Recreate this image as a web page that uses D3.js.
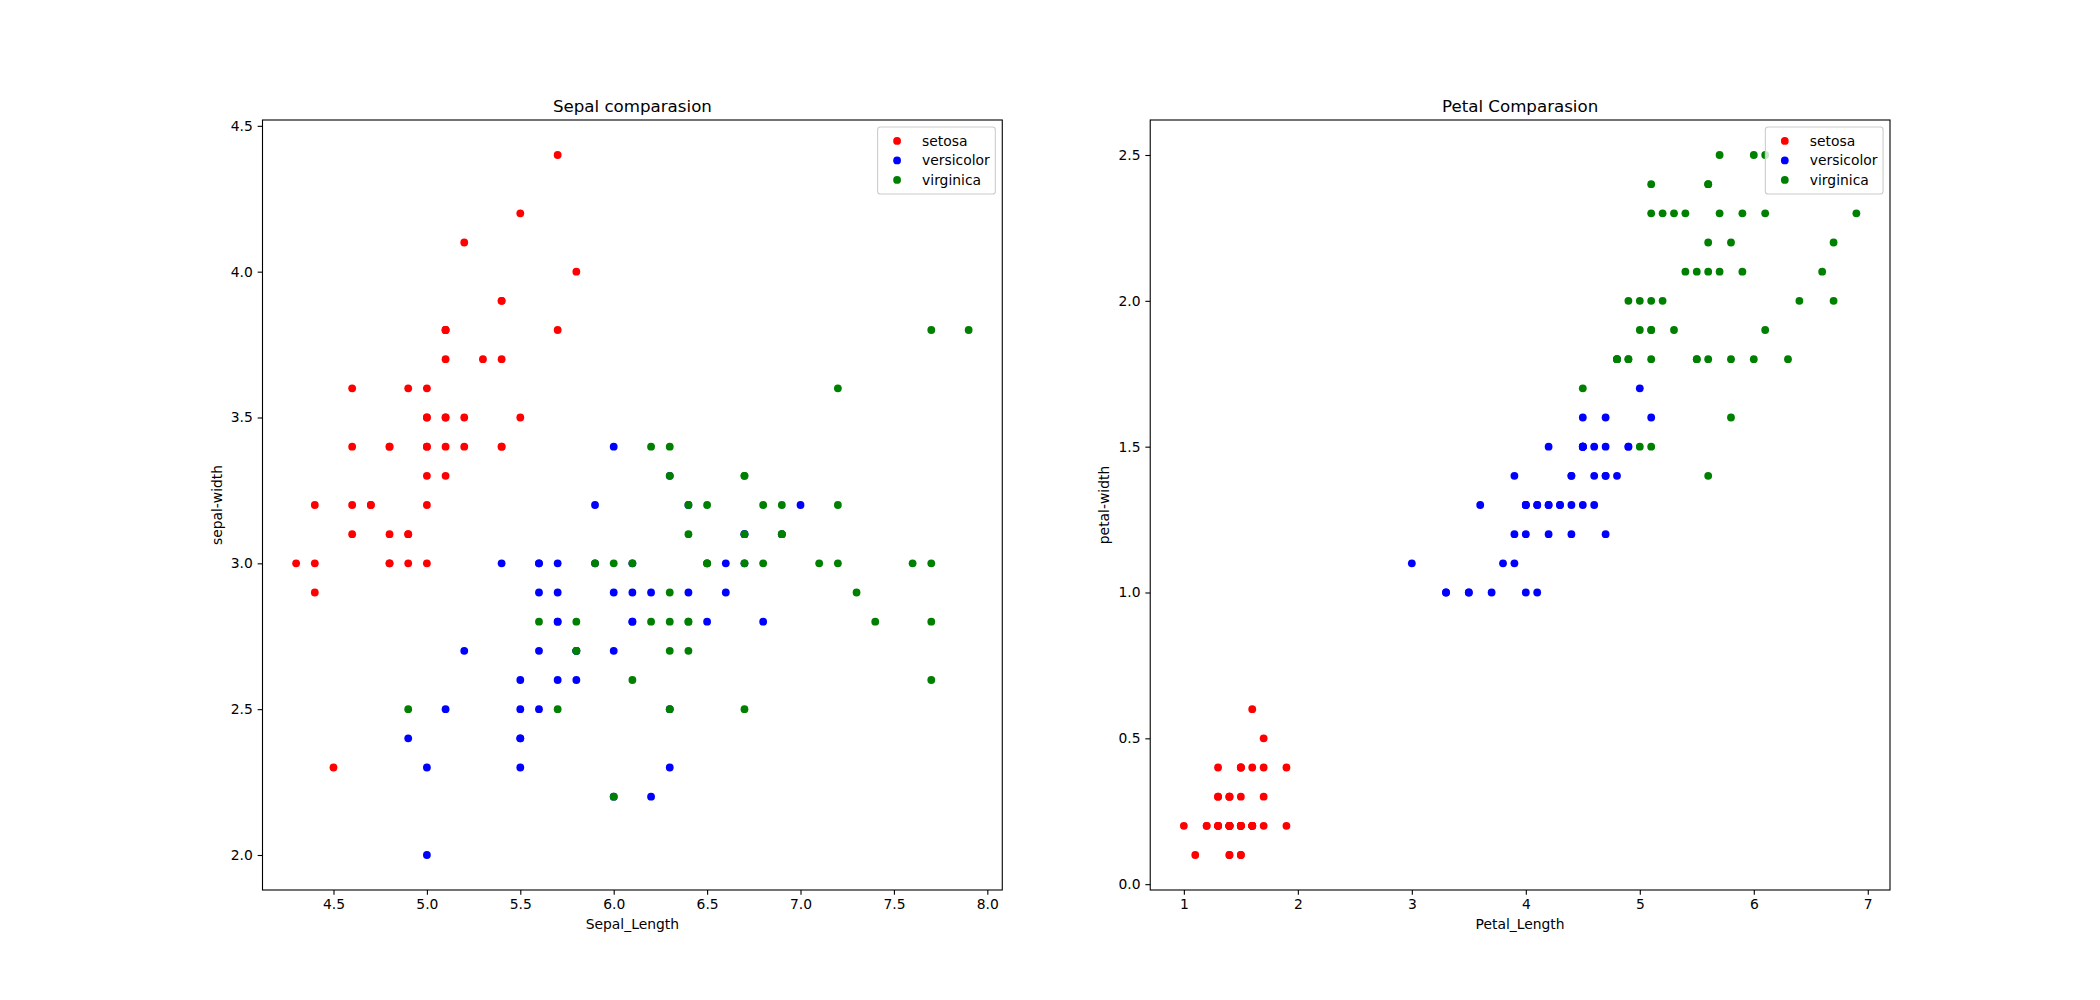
<!DOCTYPE html>
<html>
<head>
<meta charset="utf-8">
<script src="https://cdnjs.cloudflare.com/ajax/libs/d3/7.8.5/d3.min.js"></script>
<style>
  body { margin: 0; background: #fff; }
  svg text { font-family: "DejaVu Sans", sans-serif; fill: #000; }
</style>
</head>
<body>
<div id="chart"></div>
<script>
// iris measurements, one array per species and feature
var setosaSepalLength = [5.1,4.9,4.7,4.6,5.0,5.4,4.6,5.0,4.4,4.9,5.4,4.8,4.8,4.3,5.8,5.7,5.4,5.1,5.7,5.1,5.4,5.1,4.6,5.1,4.8,5.0,5.0,5.2,5.2,4.7,4.8,5.4,5.2,5.5,4.9,5.0,5.5,4.9,4.4,5.1,5.0,4.5,4.4,5.0,5.1,4.8,5.1,4.6,5.3,5.0];
var setosaSepalWidth  = [3.5,3.0,3.2,3.1,3.6,3.9,3.4,3.4,2.9,3.1,3.7,3.4,3.0,3.0,4.0,4.4,3.9,3.5,3.8,3.8,3.4,3.7,3.6,3.3,3.4,3.0,3.4,3.5,3.4,3.2,3.1,3.4,4.1,4.2,3.1,3.2,3.5,3.6,3.0,3.4,3.5,2.3,3.2,3.5,3.8,3.0,3.8,3.2,3.7,3.3];
var setosaPetalLength = [1.4,1.4,1.3,1.5,1.4,1.7,1.4,1.5,1.4,1.5,1.5,1.6,1.4,1.1,1.2,1.5,1.3,1.4,1.7,1.5,1.7,1.5,1.0,1.7,1.9,1.6,1.6,1.5,1.4,1.6,1.6,1.5,1.5,1.4,1.5,1.2,1.3,1.4,1.3,1.5,1.3,1.3,1.3,1.6,1.9,1.4,1.6,1.4,1.5,1.4];
var setosaPetalWidth  = [0.2,0.2,0.2,0.2,0.2,0.4,0.3,0.2,0.2,0.1,0.2,0.2,0.1,0.1,0.2,0.4,0.4,0.3,0.3,0.3,0.2,0.4,0.2,0.5,0.2,0.2,0.4,0.2,0.2,0.2,0.2,0.4,0.1,0.2,0.2,0.2,0.2,0.1,0.2,0.2,0.3,0.3,0.2,0.6,0.4,0.3,0.2,0.2,0.2,0.2];

var versicolorSepalLength = [7.0,6.4,6.9,5.5,6.5,5.7,6.3,4.9,6.6,5.2,5.0,5.9,6.0,6.1,5.6,6.7,5.6,5.8,6.2,5.6,5.9,6.1,6.3,6.1,6.4,6.6,6.8,6.7,6.0,5.7,5.5,5.5,5.8,6.0,5.4,6.0,6.7,6.3,5.6,5.5,5.5,6.1,5.8,5.0,5.6,5.7,5.7,6.2,5.1,5.7];
var versicolorSepalWidth  = [3.2,3.2,3.1,2.3,2.8,2.8,3.3,2.4,2.9,2.7,2.0,3.0,2.2,2.9,2.9,3.1,3.0,2.7,2.2,2.5,3.2,2.8,2.5,2.8,2.9,3.0,2.8,3.0,2.9,2.6,2.4,2.4,2.7,2.7,3.0,3.4,3.1,2.3,3.0,2.5,2.6,3.0,2.6,2.3,2.7,3.0,2.9,2.9,2.5,2.8];
var versicolorPetalLength = [4.7,4.5,4.9,4.0,4.6,4.5,4.7,3.3,4.6,3.9,3.5,4.2,4.0,4.7,3.6,4.4,4.5,4.1,4.5,3.9,4.8,4.0,4.9,4.7,4.3,4.4,4.8,5.0,4.5,3.5,3.8,3.7,3.9,5.1,4.5,4.5,4.7,4.4,4.1,4.0,4.4,4.6,4.0,3.3,4.2,4.2,4.2,4.3,3.0,4.1];
var versicolorPetalWidth  = [1.4,1.5,1.5,1.3,1.5,1.3,1.6,1.0,1.3,1.4,1.0,1.5,1.0,1.4,1.3,1.4,1.5,1.0,1.5,1.1,1.8,1.3,1.5,1.2,1.3,1.4,1.4,1.7,1.5,1.0,1.1,1.0,1.2,1.6,1.5,1.6,1.5,1.3,1.3,1.3,1.2,1.4,1.2,1.0,1.3,1.2,1.3,1.3,1.1,1.3];

var virginicaSepalLength = [6.3,5.8,7.1,6.3,6.5,7.6,4.9,7.3,6.7,7.2,6.5,6.4,6.8,5.7,5.8,6.4,6.5,7.7,7.7,6.0,6.9,5.6,7.7,6.3,6.7,7.2,6.2,6.1,6.4,7.2,7.4,7.9,6.4,6.3,6.1,7.7,6.3,6.4,6.0,6.9,6.7,6.9,5.8,6.8,6.7,6.7,6.3,6.5,6.2,5.9];
var virginicaSepalWidth  = [3.3,2.7,3.0,2.9,3.0,3.0,2.5,2.9,2.5,3.6,3.2,2.7,3.0,2.5,2.8,3.2,3.0,3.8,2.6,2.2,3.2,2.8,2.8,2.7,3.3,3.2,2.8,3.0,2.8,3.0,2.8,3.8,2.8,2.8,2.6,3.0,3.4,3.1,3.0,3.1,3.1,3.1,2.7,3.2,3.3,3.0,2.5,3.0,3.4,3.0];
var virginicaPetalLength = [6.0,5.1,5.9,5.6,5.8,6.6,4.5,6.3,5.8,6.1,5.1,5.3,5.5,5.0,5.1,5.3,5.5,6.7,6.9,5.0,5.7,4.9,6.7,4.9,5.7,6.0,4.8,4.9,5.6,5.8,6.1,6.4,5.6,5.1,5.6,6.1,5.6,5.5,4.8,5.4,5.6,5.1,5.1,5.9,5.7,5.2,5.0,5.2,5.4,5.1];
var virginicaPetalWidth  = [2.5,1.9,2.1,1.8,2.2,2.1,1.7,1.8,1.8,2.5,2.0,1.9,2.1,2.0,2.4,2.3,1.8,2.2,2.3,1.5,2.3,2.0,2.0,1.8,2.1,1.8,1.8,1.8,2.1,1.6,1.9,2.0,2.2,1.5,1.4,2.3,2.4,1.8,1.8,2.1,2.4,2.3,1.9,2.3,2.5,2.3,1.9,2.0,2.3,1.8];

var speciesNames = ["setosa", "versicolor", "virginica"];
var speciesColors = ["#ff0000", "#0000ff", "#008000"];

var sepalXTicks = [4.5, 5.0, 5.5, 6.0, 6.5, 7.0, 7.5, 8.0];
var sepalYTicks = [2.0, 2.5, 3.0, 3.5, 4.0, 4.5];
var petalXTicks = [1, 2, 3, 4, 5, 6, 7];
var petalYTicks = [0.0, 0.5, 1.0, 1.5, 2.0, 2.5];

var W = 2100, H = 1000;
var svg = d3.select("#chart").append("svg").attr("width", W).attr("height", H);

// matplotlib-like subplot geometry
var axTop = 120, axBottom = 890;
var axW = 1627.5 / 2.2;
var dotR = 3.9;
var panels = [
  {
    left: 262.5, title: "Sepal comparasion", xlabel: "Sepal_Length", ylabel: "sepal-width",
    xs: [setosaSepalLength, versicolorSepalLength, virginicaSepalLength],
    ys: [setosaSepalWidth, versicolorSepalWidth, virginicaSepalWidth],
    xTicks: sepalXTicks, yTicks: sepalYTicks, xFmt: d3.format(".1f"), yFmt: d3.format(".1f")
  },
  {
    left: 262.5 + axW * 1.2, title: "Petal Comparasion", xlabel: "Petal_Length", ylabel: "petal-width",
    xs: [setosaPetalLength, versicolorPetalLength, virginicaPetalLength],
    ys: [setosaPetalWidth, versicolorPetalWidth, virginicaPetalWidth],
    xTicks: petalXTicks, yTicks: petalYTicks, xFmt: d3.format("d"), yFmt: d3.format(".1f")
  }
];

function padded(ext) {
  var m = (ext[1] - ext[0]) * 0.05;
  return [ext[0] - m, ext[1] + m];
}

panels.forEach(function(p) {
  var allX = d3.merge(p.xs), allY = d3.merge(p.ys);
  var x = d3.scaleLinear().domain(padded(d3.extent(allX))).range([p.left, p.left + axW]);
  var y = d3.scaleLinear().domain(padded(d3.extent(allY))).range([axBottom, axTop]);

  var g = svg.append("g");

  // points
  p.xs.forEach(function(xsArr, si) {
    g.append("g").selectAll("circle")
      .data(xsArr.map(function(v, i) { return [v, p.ys[si][i]]; }))
      .enter().append("circle")
      .attr("cx", function(d) { return x(d[0]); })
      .attr("cy", function(d) { return y(d[1]); })
      .attr("r", dotR)
      .attr("fill", speciesColors[si]);
  });

  // axes
  var xAxis = g.append("g").attr("transform", "translate(0," + axBottom + ")")
    .call(d3.axisBottom(x).tickValues(p.xTicks).tickFormat(p.xFmt).tickSize(4.86).tickPadding(4.5).tickSizeOuter(0));
  var yAxis = g.append("g").attr("transform", "translate(" + p.left + ",0)")
    .call(d3.axisLeft(y).tickValues(p.yTicks).tickFormat(p.yFmt).tickSize(4.86).tickPadding(4.86).tickSizeOuter(0));
  [xAxis, yAxis].forEach(function(a) {
    a.select(".domain").remove();
    a.selectAll("line").attr("stroke", "#000").attr("stroke-width", 1.1);
    a.selectAll("text").attr("font-size", "13.89px").attr("font-family", "DejaVu Sans");
  });

  // spines
  g.append("rect")
    .attr("x", p.left).attr("y", axTop)
    .attr("width", axW).attr("height", axBottom - axTop)
    .attr("fill", "none").attr("stroke", "#000").attr("stroke-width", 1.1);

  // title and labels
  g.append("text").attr("x", p.left + axW / 2).attr("y", 111.5)
    .attr("text-anchor", "middle").attr("font-size", "16.67px").text(p.title);
  g.append("text").attr("x", p.left + axW / 2).attr("y", 928.5)
    .attr("text-anchor", "middle").attr("font-size", "13.89px").text(p.xlabel);
  var yl = p.left - 41;
  g.append("text")
    .attr("transform", "translate(" + yl + "," + ((axTop + axBottom) / 2) + ") rotate(-90)")
    .attr("text-anchor", "middle").attr("font-size", "13.89px").text(p.ylabel);

  // legend, upper right
  var fs = 13.89;
  var lg = g.append("g");
  var frame = lg.append("rect");
  var texts = [];
  speciesNames.forEach(function(name, i) {
    var cy = axTop + 6.94 + 14 + i * 19.5;
    lg.append("circle").attr("class", "lm")
      .attr("cy", cy).attr("r", dotR).attr("fill", speciesColors[i]);
    texts.push(lg.append("text").attr("y", cy + 4.8).attr("font-size", fs + "px").text(name));
  });
  var tw = d3.max(texts, function(t) { return t.node().getComputedTextLength(); });
  var boxW = 5.56 + 27.78 + 11.11 + tw + 5.56;
  var boxR = p.left + axW - 6.94;
  var boxL = boxR - boxW;
  frame.attr("x", boxL).attr("y", axTop + 6.94)
    .attr("width", boxW).attr("height", 67)
    .attr("rx", 2.8).attr("ry", 2.8)
    .attr("fill", "#fff").attr("fill-opacity", 0.8)
    .attr("stroke", "#cccccc").attr("stroke-width", 1.1);
  lg.selectAll("circle.lm").attr("cx", boxL + 5.56 + 13.9);
  texts.forEach(function(t) { t.attr("x", boxL + 5.56 + 27.78 + 11.11); });
});
</script>
</body>
</html>
